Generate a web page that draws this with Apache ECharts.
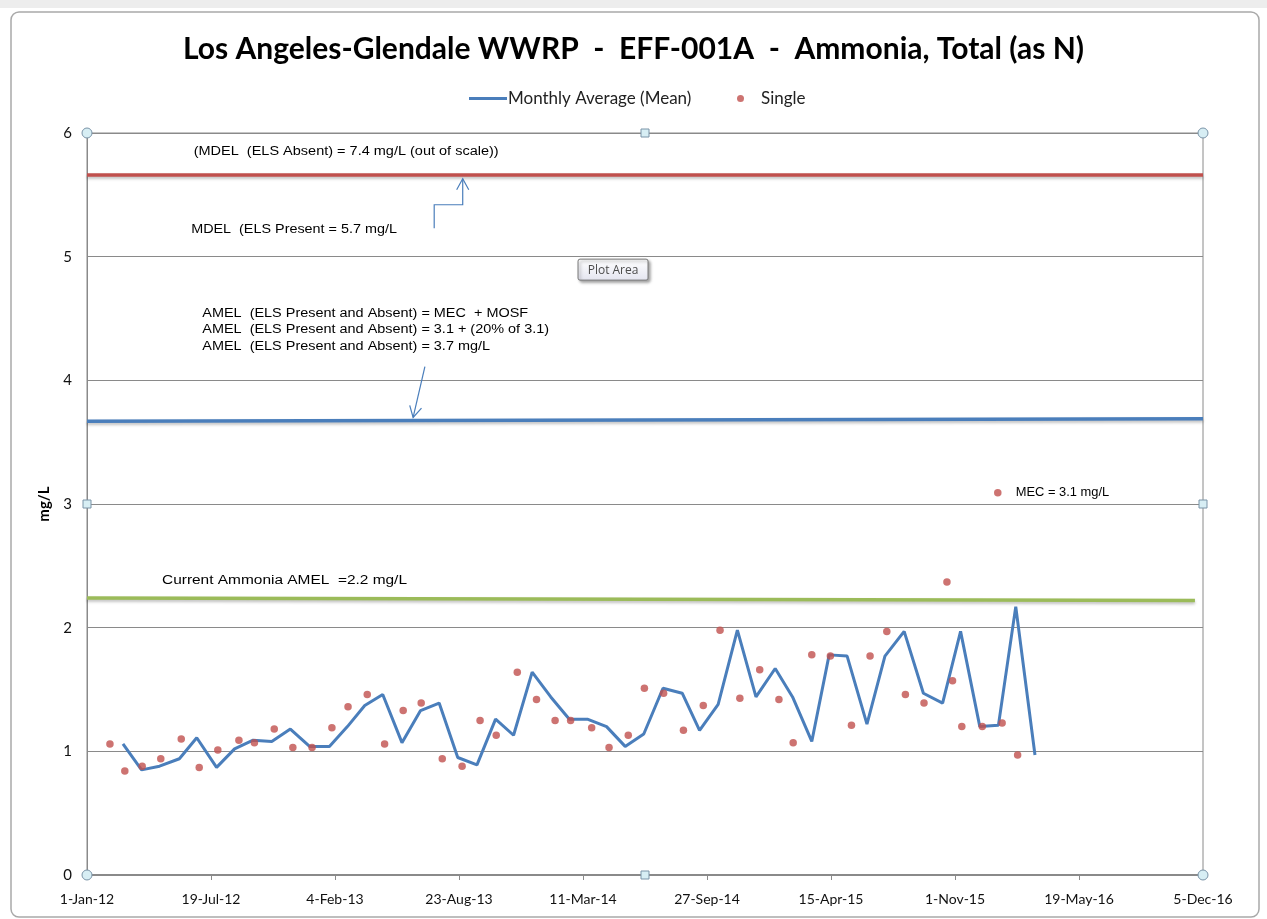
<!DOCTYPE html>
<html>
<head>
<meta charset="utf-8">
<script src="https://cdn.jsdelivr.net/npm/echarts@6/dist/echarts.min.js"></script>
<style>
  html, body { margin: 0; padding: 0; background: #fff; }
  #chart { width: 1267px; height: 919px; }
</style>
</head>
<body>
<div id="chart"></div>
<script>
// Fechas como días desde 1-Jan-12
const START_UTC = Date.UTC(2012, 0, 1);
const MONTHS = ['Jan','Feb','Mar','Apr','May','Jun','Jul','Aug','Sep','Oct','Nov','Dec'];

// Promedio mensual (línea azul)
const avgDays = [58, 88, 117, 149, 177, 209, 238, 268, 298, 328, 359, 391, 420, 448, 477,
  508, 538, 568, 598, 629, 659, 688, 718, 748, 778, 807, 838, 868, 898, 929, 960,
  988, 1018, 1049, 1079, 1110, 1138, 1169, 1197, 1226, 1258, 1287, 1318, 1349, 1380,
  1409, 1440, 1470, 1498, 1529];
const avgValues = [1.06, 0.85, 0.88, 0.94, 1.11, 0.87, 1.02, 1.09, 1.08, 1.18, 1.04, 1.04, 1.20, 1.37, 1.46,
  1.07, 1.33, 1.39, 0.95, 0.89, 1.26, 1.13, 1.64, 1.44, 1.26, 1.26, 1.20, 1.04, 1.14, 1.51, 1.47,
  1.17, 1.38, 1.98, 1.44, 1.67, 1.44, 1.08, 1.78, 1.77, 1.22, 1.77, 1.97, 1.47, 1.39,
  1.97, 1.20, 1.21, 2.17, 0.97];

// Muestras individuales (puntos rojos)
const singleDays = [37, 61, 89, 119, 152, 181, 211, 245, 270, 302, 332, 363, 395, 421, 452, 480,
  510, 539, 573, 605, 634, 660, 694, 725, 755, 780, 814, 842, 873, 899, 930,
  962, 994, 1021, 1053, 1085, 1116, 1139, 1169, 1199, 1233, 1263, 1290, 1320, 1350,
  1387, 1396, 1411, 1444, 1476, 1501];
const singleValues = [1.06, 0.84, 0.88, 0.94, 1.10, 0.87, 1.01, 1.09, 1.07, 1.18, 1.03, 1.03, 1.19, 1.36, 1.46, 1.06,
  1.33, 1.39, 0.94, 0.88, 1.25, 1.13, 1.64, 1.42, 1.25, 1.25, 1.19, 1.03, 1.13, 1.51, 1.47,
  1.17, 1.37, 1.98, 1.43, 1.66, 1.42, 1.07, 1.78, 1.77, 1.21, 1.77, 1.97, 1.46, 1.39,
  2.37, 1.57, 1.20, 1.20, 1.23, 0.97];

// Punto MEC
const mecDay = [1469];
const mecValue = [3.09];

// Límites horizontales [día inicio, valor inicio, día fin, valor fin]
const mdelLine = [0, 5.66, 1800, 5.66];
const amelLine = [0, 3.67, 1800, 3.69];
const currentAmelLine = [0, 2.24, 1787, 2.22];

// Ejes
const xMin = 0, xMax = 1800, xStep = 200;
const yMin = 0, yMax = 6, yStep = 1;

// Anotaciones (anclas en coordenadas de datos)
const notes = [
  { text: '(MDEL  (ELS Absent) = 7.4 mg/L (out of scale))', at: [172, 5.85], sx: 1.16 },
  { text: 'MDEL  (ELS Present = 5.7 mg/L', at: [168, 5.22], sx: 1.15 },
  { text: 'AMEL  (ELS Present and Absent) = MEC  + MOSF\nAMEL  (ELS Present and Absent) = 3.1 + (20% of 3.1)\nAMEL  (ELS Present and Absent) = 3.7 mg/L', at: [186, 4.41], sx: 1.155 },
  { text: 'Current Ammonia AMEL  =2.2 mg/L', at: [121, 2.38], sx: 1.235 },
  { text: 'MEC = 3.1 mg/L', at: [1498, 3.09], sx: 1.03 }
];
const arrowUp = [[560, 5.23], [560, 5.42], [606, 5.42], [606, 5.63]];
const arrowDown = [[545, 4.11], [526, 3.70]];
const plotAreaTip = [792, 4.98];

function fmtDate(v) {
  const d = new Date(START_UTC + v * 86400000);
  return d.getUTCDate() + '-' + MONTHS[d.getUTCMonth()] + '-' + String(d.getUTCFullYear()).slice(2);
}

const zip = (xs, ys) => xs.map((x, i) => [x, ys[i]]);
const seg = (l) => [[l[0], l[1]], [l[2], l[3]]];

const chart = echarts.init(document.getElementById('chart'));

function limitSeries(name, line, color) {
  return {
    name: name,
    type: 'line',
    data: seg(line),
    symbol: 'none',
    silent: true,
    z: 1,
    lineStyle: {
      color: color, width: 3.5,
      shadowColor: 'rgba(0,0,0,0.25)', shadowBlur: 3, shadowOffsetY: 2
    }
  };
}

const option = {
  animation: false,
  backgroundColor: '#fff',
  title: {
    text: 'Los Angeles-Glendale WWRP  -  EFF-001A  -  Ammonia, Total (as N)',
    left: 'center',
    top: 29,
    textStyle: { fontFamily: 'Lato', fontWeight: 'bold', fontSize: 30, color: '#000' }
  },
  legend: [
    {
      data: [{ name: 'Monthly Average (Mean)', icon: 'rect' }],
      left: 464, top: 85,
      itemWidth: 38, itemHeight: 3,
      itemGap: 0,
      textStyle: { fontFamily: 'Lato', fontSize: 17, color: '#222', padding: [0, 0, 0, -4] }
    },
    {
      data: [{ name: 'Single', icon: 'circle' }],
      left: 732, top: 85,
      itemWidth: 7, itemHeight: 7,
      textStyle: { fontFamily: 'Lato', fontSize: 17, color: '#222', padding: [0, 0, 0, 12] }
    }
  ],
  grid: {
    left: 87, right: 64, top: 133, bottom: 44,
    show: true, borderColor: '#8a8a8a', borderWidth: 1
  },
  xAxis: {
    type: 'value',
    min: xMin, max: xMax, interval: xStep,
    axisLine: { show: true, onZero: false, lineStyle: { color: '#8a8a8a', width: 2 } },
    axisTick: { show: true, length: 5, lineStyle: { color: '#8a8a8a' } },
    splitLine: { show: false },
    axisLabel: {
      formatter: fmtDate, margin: 17,
      fontFamily: 'Lato', fontSize: 14, color: '#111'
    }
  },
  yAxis: {
    type: 'value',
    min: yMin, max: yMax, interval: yStep,
    name: 'mg/L',
    nameLocation: 'middle',
    nameGap: 35,
    nameRotate: 90,
    nameTextStyle: { fontFamily: 'Lato', fontWeight: 'bold', fontSize: 15, color: '#000' },
    axisLine: { show: true, lineStyle: { color: '#8a8a8a', width: 1 } },
    axisTick: { show: false },
    splitLine: { lineStyle: { color: '#8a8a8a', width: 1 } },
    axisLabel: { margin: 15, fontFamily: 'Lato', fontSize: 15, color: '#111' }
  },
  series: [
    limitSeries('MDEL', mdelLine, '#c0504d'),
    limitSeries('AMEL', amelLine, '#4a7ebb'),
    limitSeries('Current AMEL', currentAmelLine, '#9bbb59'),
    {
      name: 'Monthly Average (Mean)',
      type: 'line',
      data: zip(avgDays, avgValues),
      symbol: 'none',
      z: 3,
      itemStyle: { color: '#4a7ebb' },
      lineStyle: { color: '#4a7ebb', width: 3 }
    },
    {
      name: 'Single',
      type: 'scatter',
      data: zip(singleDays, singleValues),
      symbolSize: 7.5,
      z: 4,
      itemStyle: { color: '#c0504d' }
    },
    {
      name: 'MEC',
      type: 'scatter',
      data: zip(mecDay, mecValue),
      symbolSize: 7.5,
      z: 4,
      itemStyle: { color: '#c0504d' }
    }
  ]
};

chart.setOption(option);

// Anotaciones, flechas y marcas de selección
function px(p) { return chart.convertToPixel({ gridIndex: 0 }, p); }

function arrowHead(tip, from, size) {
  const dx = tip[0] - from[0], dy = tip[1] - from[1];
  const len = Math.sqrt(dx * dx + dy * dy);
  const ux = dx / len, uy = dy / len;
  const bx = tip[0] - ux * size, by = tip[1] - uy * size;
  const nx = -uy * size * 0.55, ny = ux * size * 0.55;
  return [[bx + nx, by + ny], tip, [bx - nx, by - ny]];
}

const graphics = [];

// Marco exterior
graphics.push({
  type: 'rect', z: -10, silent: true,
  shape: { x: 11, y: 12, width: 1248, height: 905, r: 8 },
  style: { fill: '#fff', stroke: '#a9a9a9', lineWidth: 1.5 }
});
graphics.push({
  type: 'rect', z: -11, silent: true,
  shape: { x: 0, y: 0, width: 1267, height: 8 },
  style: { fill: '#ededed' }
});

notes.forEach(n => {
  const p = px(n.at);
  graphics.push({
    type: 'text', z: 50, silent: true,
    x: p[0], y: p[1],
    scaleX: n.sx,
    style: {
      text: n.text, fill: '#000',
      font: '12.5px "Liberation Sans", Arial, sans-serif',
      lineHeight: 16.5,
      verticalAlign: 'middle', align: 'left'
    }
  });
});

const up = arrowUp.map(px);
graphics.push({
  type: 'polyline', z: 50, silent: true,
  shape: { points: up },
  style: { stroke: '#4a7ebb', lineWidth: 1.2, fill: null }
});
graphics.push({
  type: 'polyline', z: 50, silent: true,
  shape: { points: arrowHead(up[up.length - 1], up[up.length - 2], 11) },
  style: { stroke: '#4a7ebb', lineWidth: 1.2, fill: null }
});
const dn = arrowDown.map(px);
graphics.push({
  type: 'polyline', z: 50, silent: true,
  shape: { points: dn },
  style: { stroke: '#4a7ebb', lineWidth: 1.2, fill: null }
});
graphics.push({
  type: 'polyline', z: 50, silent: true,
  shape: { points: arrowHead(dn[1], dn[0], 11) },
  style: { stroke: '#4a7ebb', lineWidth: 1.2, fill: null }
});

// Etiqueta "Plot Area"
const tp = px(plotAreaTip);
graphics.push({
  type: 'rect', z: 60, silent: true,
  shape: { x: tp[0], y: tp[1], width: 70, height: 21, r: 2 },
  style: {
    fill: new echarts.graphic.LinearGradient(0, 0, 0, 1, [
      { offset: 0, color: '#ffffff' }, { offset: 1, color: '#e4e5f0' }
    ]),
    stroke: '#767676', lineWidth: 1,
    shadowColor: 'rgba(0,0,0,0.35)', shadowBlur: 3, shadowOffsetX: 2, shadowOffsetY: 2
  }
});
graphics.push({
  type: 'text', z: 61, silent: true,
  x: tp[0] + 35, y: tp[1] + 11,
  style: {
    text: 'Plot Area', fill: '#4c4c4c',
    font: '12px "Open Sans", sans-serif',
    align: 'center', verticalAlign: 'middle'
  }
});

// Marcas de selección del área de trazado
const c00 = px([xMin, yMin]), c11 = px([xMax, yMax]);
const midX = (c00[0] + c11[0]) / 2, midY = (c00[1] + c11[1]) / 2;
[[c00[0], c00[1]], [c11[0], c00[1]], [c00[0], c11[1]], [c11[0], c11[1]]].forEach(c => {
  graphics.push({
    type: 'circle', z: 70, silent: true,
    shape: { cx: c[0], cy: c[1], r: 5 },
    style: { fill: '#d7eef4', stroke: '#7b94a8', lineWidth: 1 }
  });
});
[[midX, c11[1]], [midX, c00[1]], [c00[0], midY], [c11[0], midY]].forEach(c => {
  graphics.push({
    type: 'rect', z: 70, silent: true,
    shape: { x: c[0] - 4, y: c[1] - 4, width: 8, height: 8 },
    style: { fill: '#d7eef4', stroke: '#7b94a8', lineWidth: 1 }
  });
});

chart.setOption({ graphic: graphics });
</script>
</body>
</html>
